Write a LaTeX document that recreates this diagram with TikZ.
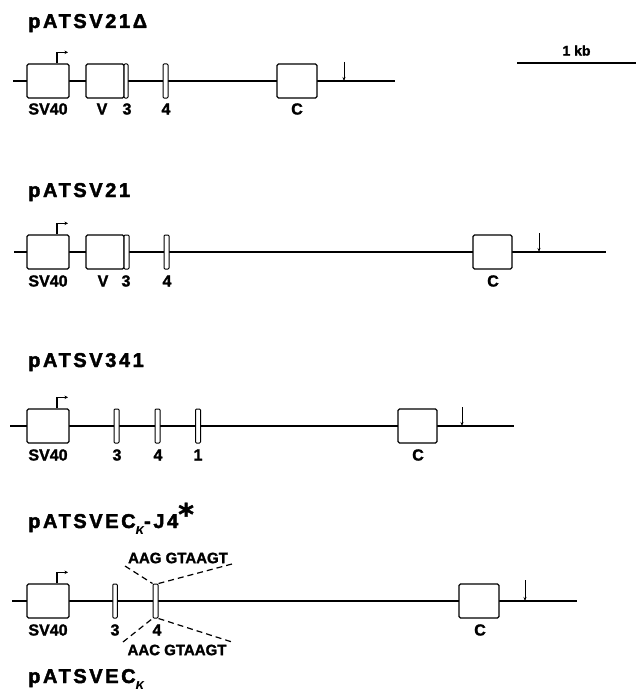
\documentclass[tikz,border=0pt]{standalone}
\usepackage{fontspec}
\setmainfont{Liberation Sans}[BoldFeatures={FakeBold=1.6}]
\newfontfamily\titlefont{Liberation Sans}[LetterSpace=13, BoldFeatures={FakeBold=2.2}]
\newfontfamily\starfont{DejaVu Sans}[BoldFeatures={FakeBold=1.5}]
\usetikzlibrary{arrows.meta}

\begin{document}
\begin{tikzpicture}[
  x=1pt, y=-1pt,
  font=\bfseries\fontsize{16}{16}\selectfont,
  backbone/.style={line width=2.6pt},
  exon/.style={draw, line width=1.3pt, fill=white, rounded corners=1.5pt,
               minimum height=34pt, inner sep=0pt},
  thinexon/.style={exon, rounded corners=1pt, line width=1pt, minimum width=5pt},
  lbl/.style={inner sep=0pt},
  title/.style={anchor=base west, inner sep=0pt,
                font=\titlefont\bfseries\fontsize{20}{20}\selectfont},
  promo/.style={line width=1.1pt, -{Stealth[length=3.5pt,width=3.5pt]}},
  polya/.style={line width=1pt, -{Stealth[length=4pt,width=3pt]}},
  seq/.style={inner sep=0pt, font=\bfseries\fontsize{15}{15}\selectfont},
  splice/.style={line width=1.2pt, dash pattern=on 6pt off 4pt}
]
\useasboundingbox (0,0) rectangle (637,693);

% pATSV21 delta
\node[title] (t1) at (28,28) {pATSV21Δ};
\coordinate (a-l) at (13,81);
\coordinate (a-r) at (395,81);
\draw[backbone] (a-l) -- (a-r);
\node[exon, minimum width=42pt] (a-sv) at (48,81) {};
\node[exon, minimum width=38pt] (a-v) at (105,81) {};
\node[thinexon, minimum width=4pt] (a-3) at (126,81) {};
\node[thinexon] (a-4) at (165.5,81) {};
\node[exon, minimum width=40pt] (a-c) at (297,81) {};
\draw[promo] ([xshift=9pt]a-sv.north) -- ++(0,-11) -- ++(11,0);
\coordinate (a-pt) at (344,62);
\coordinate (a-pa) at (344,81);
\draw[polya] (a-pt) -- (a-pa);
\node[lbl] (a-lsv) at (48,109) {SV40};
\node[lbl] (a-lv) at (102,109) {V};
\node[lbl] (a-l3) at (127,109) {3};
\node[lbl] (a-l4) at (166,109) {4};
\node[lbl] (a-lc) at (297,109) {C};

% scale bar
\coordinate (kb-l) at (517,63);
\coordinate (kb-r) at (636,63);
\draw[backbone] (kb-l) -- node[above=6pt, inner sep=0pt, font=\bfseries\fontsize{14}{14}\selectfont] (kb) {1 kb} (kb-r);

% pATSV21
\node[title] (t2) at (28,197) {pATSV21};
\coordinate (b-l) at (14,252);
\coordinate (b-r) at (606,252);
\draw[backbone] (b-l) -- (b-r);
\node[exon, minimum width=42pt] (b-sv) at (48,252) {};
\node[exon, minimum width=38pt] (b-v) at (105,252) {};
\node[thinexon] (b-3) at (126.5,252) {};
\node[thinexon] (b-4) at (166.5,252) {};
\node[exon, minimum width=39pt] (b-c) at (492.5,252) {};
\draw[promo] ([xshift=9pt]b-sv.north) -- ++(0,-11) -- ++(11,0);
\coordinate (b-pt) at (539,233);
\coordinate (b-pa) at (539,252);
\draw[polya] (b-pt) -- (b-pa);
\node[lbl] (b-lsv) at (48,281) {SV40};
\node[lbl] (b-lv) at (103,281) {V};
\node[lbl] (b-l3) at (126,281) {3};
\node[lbl] (b-l4) at (167,281) {4};
\node[lbl] (b-lc) at (493,281) {C};

% pATSV341
\node[title] (t3) at (28,367) {pATSV341};
\coordinate (c-l) at (10,426);
\coordinate (c-r) at (514,426);
\draw[backbone] (c-l) -- (c-r);
\node[exon, minimum width=42pt] (c-sv) at (48,426) {};
\node[thinexon] (c-3) at (116.5,426) {};
\node[thinexon] (c-4) at (157.5,426) {};
\node[thinexon] (c-1) at (198,426) {};
\node[exon, minimum width=39pt] (c-c) at (417.5,426) {};
\draw[promo] ([xshift=9pt]c-sv.north) -- ++(0,-11) -- ++(11,0);
\coordinate (c-pt) at (462,407);
\coordinate (c-pa) at (462,426);
\draw[polya] (c-pt) -- (c-pa);
\node[lbl] (c-lsv) at (48,455) {SV40};
\node[lbl] (c-l3) at (117,455) {3};
\node[lbl] (c-l4) at (158,455) {4};
\node[lbl] (c-l1) at (198,455) {1};
\node[lbl] (c-lc) at (418,455) {C};

% pATSVECk-J4*
\node[title] (t4) at (28,528) {pATSVEC\raisebox{-6pt}{\fontsize{15}{15}\selectfont\itshape κ}-J4\raisebox{3pt}{\starfont\bfseries\fontsize{30}{30}\selectfont *}};
\coordinate (d-l) at (12,601);
\coordinate (d-r) at (577,601);
\draw[backbone] (d-l) -- (d-r);
\node[exon, minimum width=42pt] (d-sv) at (48,601) {};
\node[thinexon, minimum width=4.5pt] (d-3) at (115,601) {};
\node[thinexon] (d-4) at (155.5,601) {};
\node[exon, minimum width=40pt] (d-c) at (479,601) {};
\draw[promo] ([xshift=9pt]d-sv.north) -- ++(0,-11) -- ++(11,0);
\coordinate (d-pt) at (525,580);
\coordinate (d-pa) at (525,601);
\draw[polya] (d-pt) -- (d-pa);
\node[lbl] (d-lsv) at (48,630) {SV40};
\node[lbl] (d-l3) at (115,630) {3};
\node[lbl] (d-l4) at (157,630) {4};
\node[lbl] (d-lc) at (480,630) {C};
\node[seq] (aag) at (178,558) {AAG GTAAGT};
\node[seq] (aac) at (177,650) {AAC GTAAGT};
\coordinate (aag-l) at (125,566);
\coordinate (aag-r) at (232,564);
\coordinate (aac-l) at (123,642);
\coordinate (aac-r) at (232,642);
\draw[splice] (aag-l) -- (d-4.north west);
\draw[splice] (d-4.north east) -- (aag-r);
\draw[splice] (aac-l) -- (d-4.south west);
\draw[splice] (d-4.south east) -- (aac-r);

% pATSVECk
\node[title] (t5) at (28,683) {pATSVEC\raisebox{-6pt}{\fontsize{15}{15}\selectfont\itshape κ}};
\end{tikzpicture}
\end{document}
